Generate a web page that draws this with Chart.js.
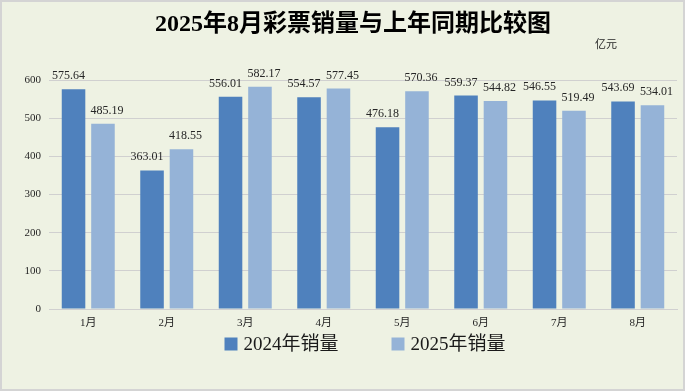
<!DOCTYPE html>
<html>
<head>
<meta charset="utf-8">
<script src="https://cdn.jsdelivr.net/npm/chart.js@4"></script>
<style>
  html, body { margin: 0; padding: 0; background: #eef2e3; }
  #wrap { width: 685px; height: 391px; position: relative; }
</style>
</head>
<body>
<div id="wrap"><canvas id="myChart" width="685" height="391"></canvas></div>
<script>
// months on the x axis
const months = ['1月', '2月', '3月', '4月', '5月', '6月', '7月', '8月'];
// sales in 100 million yuan
const sales2024 = [575.64, 363.01, 556.01, 554.57, 476.18, 559.37, 546.55, 543.69];
const sales2025 = [485.19, 418.55, 582.17, 577.45, 570.36, 544.82, 519.49, 534.01];
const yTicks = [0, 100, 200, 300, 400, 500, 600];
const titleText = '2025年8月彩票销量与上年同期比较图';

const serif = '"Liberation Serif", "DejaVu Serif", "Noto Sans CJK SC", serif';

// background, border, title, unit text, value labels and the legend row
const decor = {
    id: 'decor',
    beforeDraw(chart) {
        const c = chart.ctx;
        c.save();
        c.fillStyle = '#eef2e3';
        c.fillRect(0, 0, chart.width, chart.height);
        c.strokeStyle = '#d4d4d4';
        c.lineWidth = 2;
        c.strokeRect(1, 1, chart.width - 2, chart.height - 2);

        c.fillStyle = '#000';
        c.font = 'bold 24px ' + serif;
        c.textAlign = 'center';
        c.textBaseline = 'middle';
        c.fillText(titleText, 353, 25);
        c.restore();
    },
    afterDatasetsDraw(chart) {
        const c = chart.ctx;
        const area = chart.chartArea;
        c.save();
        c.fillStyle = '#262626';
        c.font = '12px ' + serif;
        c.textAlign = 'center';
        c.textBaseline = 'alphabetic';
        // labels sit a little apart: first series nudged left, second right
        const shift = [-5, 4];
        chart.data.datasets.forEach((ds, i) => {
            chart.getDatasetMeta(i).data.forEach((bar, j) => {
                c.fillText(ds.data[j].toFixed(2), bar.x + shift[i], bar.y - 10);
            });
        });

        // unit
        c.font = '11px ' + serif;
        c.textAlign = 'left';
        c.textBaseline = 'middle';
        c.fillText('亿元', 595, 45);

        // legend
        c.font = '19px ' + serif;
        const box = 13, gapText = 6, gapItem = 53, y = 344;
        const items = chart.data.datasets.map(ds => ({
            text: ds.label, color: ds.backgroundColor, w: c.measureText(ds.label).width
        }));
        const total = items.reduce((s, it) => s + box + gapText + it.w, 0) + gapItem * (items.length - 1);
        let x = (area.left + area.right) / 2 - total / 2 + 2;
        items.forEach(it => {
            c.fillStyle = it.color;
            c.fillRect(x, y - box / 2, box, box);
            c.fillStyle = '#1a1a1a';
            c.fillText(it.text, x + box + gapText, y + 1);
            x += box + gapText + it.w + gapItem;
        });
        c.restore();
    }
};

const ctx = document.getElementById('myChart').getContext('2d');
new Chart(ctx, {
    type: 'bar',
    data: {
        labels: months,
        datasets: [
            { label: '2024年销量', data: sales2024, backgroundColor: '#4f81bd' },
            { label: '2025年销量', data: sales2025, backgroundColor: '#95b3d7' }
        ]
    },
    options: {
        responsive: false,
        animation: false,
        layout: { padding: { left: 0, right: 8, top: 80, bottom: 0 } },
        datasets: { bar: { categoryPercentage: 0.75, barPercentage: 0.8 } },
        plugins: {
            title: { display: false },
            legend: { display: false },
            tooltip: { enabled: false }
        },
        scales: {
            x: {
                afterFit(scale) { scale.height = 82; },
                grid: { display: false },
                border: { color: '#d0d0d0' },
                ticks: { color: '#262626', font: { family: serif, size: 11 }, padding: 0 }
            },
            y: {
                min: 0,
                max: 600,
                afterBuildTicks(scale) { scale.ticks = yTicks.map(v => ({ value: v })); },
                afterFit(scale) { scale.width = 49; },
                grid: { color: '#d0d0d0', drawTicks: false },
                border: { display: false },
                ticks: { color: '#262626', font: { family: serif, size: 11 }, padding: 8 }
            }
        }
    },
    plugins: [decor]
});
</script>
</body>
</html>
